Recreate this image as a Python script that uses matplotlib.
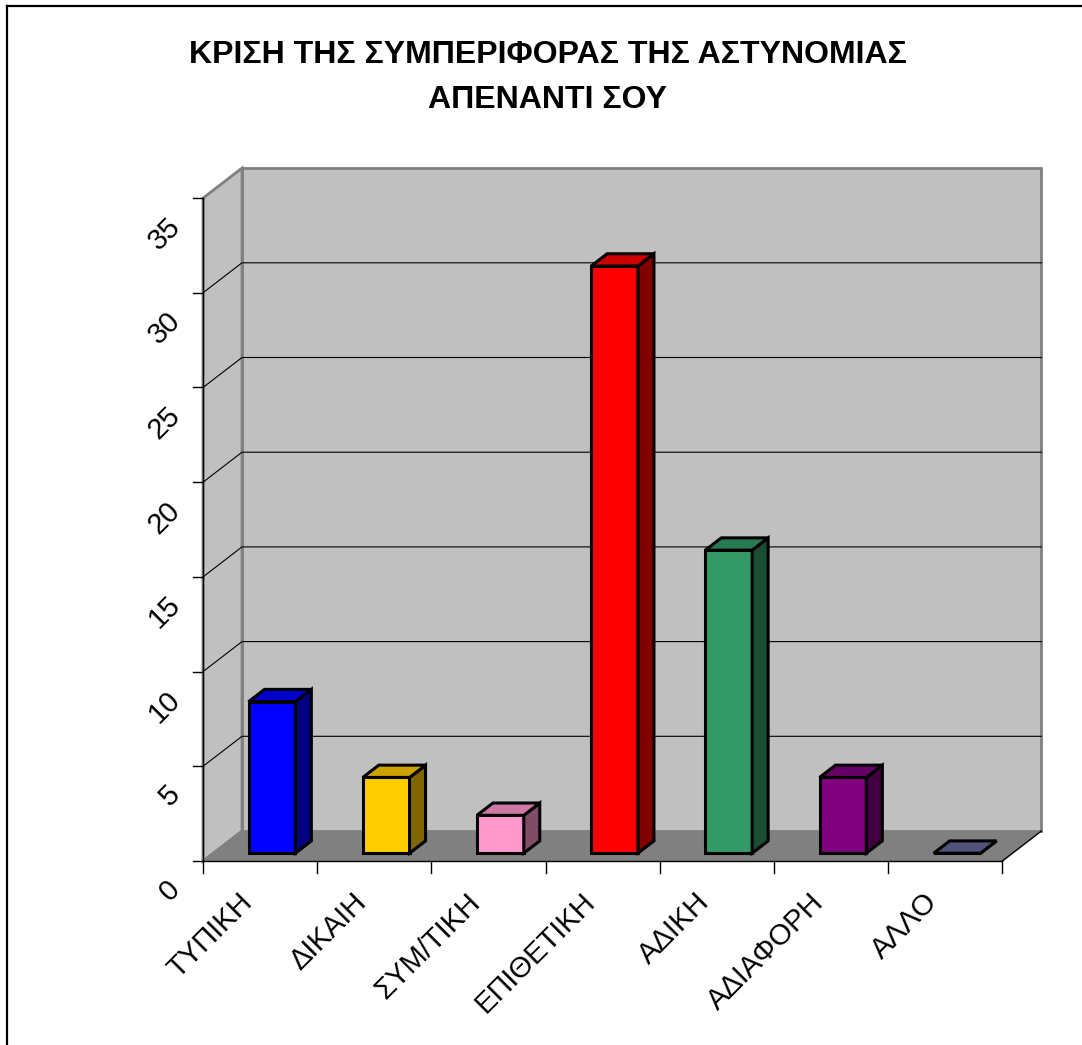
import matplotlib
matplotlib.use("Agg")
import matplotlib.pyplot as plt
from matplotlib.patches import Polygon
from matplotlib.colors import to_rgb

# data
categories = ["ΤΥΠΙΚΗ", "ΔΙΚΑΙΗ", "ΣΥΜ/ΤΙΚΗ", "ΕΠΙΘΕΤΙΚΗ", "ΑΔΙΚΗ", "ΑΔΙΑΦΟΡΗ", "ΑΛΛΟ"]
values = [8, 4, 2, 31, 16, 4, 0]
bar_colors = ["#0000FF", "#FFCC00", "#FF99CC", "#FF0000", "#339966", "#800080", "#666699"]
yticks = [0, 5, 10, 15, 20, 25, 30, 35]
title_lines = ["ΚΡΙΣΗ ΤΗΣ ΣΥΜΠΕΡΙΦΟΡΑΣ ΤΗΣ ΑΣΤΥΝΟΜΙΑΣ", "ΑΠΕΝΑΝΤΙ ΣΟΥ"]

plt.rcParams['font.family'] = ['Liberation Sans', 'DejaVu Sans']

W, H = 1082, 1045
fig = plt.figure(figsize=(W / 100, H / 100), dpi=100)
ax = fig.add_axes([0, 0, 1, 1])
ax.axis("off")

# pixel layout of the pseudo 3d box
X0, CW = 203, 114.2      # left edge of category 0, px per category
Y0, YU = 861, 18.94      # px of value 0, px per unit
ax.set_xlim(-X0 / CW, (W - X0) / CW)
ax.set_ylim((Y0 - H) / YU, Y0 / YU)

n = len(categories)
ymax = yticks[-1]
ddx = 39 / CW   # depth offset in data units
ddy = 30 / YU


def shade(c, f):
    r, g, b = to_rgb(c)
    return (r * f, g * f, b * f)


# walls and floor
ax.add_patch(Polygon([(ddx, ddy), (n + ddx, ddy), (n + ddx, ymax + ddy), (ddx, ymax + ddy)],
                     closed=True, fc="#C0C0C0", ec="#808080", lw=2, zorder=1))
ax.add_patch(Polygon([(0, 0), (ddx, ddy), (ddx, ymax + ddy), (0, ymax)],
                     closed=True, fc="#C0C0C0", ec="#808080", lw=2, zorder=1))
ax.add_patch(Polygon([(0, 0), (n, 0), (n + ddx, ddy), (ddx, ddy)],
                     closed=True, fc="#808080", ec="none", zorder=2))
ax.plot([n, n + ddx], [0, ddy], color="black", lw=1, zorder=3)

# gridlines
for v in yticks[1:-1]:
    ax.plot([0, ddx, n + ddx], [v, v + ddy, v + ddy], color="black", lw=0.8, zorder=2)

# axis lines and ticks
ax.plot([0, 0], [0, ymax], color="black", lw=1, zorder=3)
ax.plot([0, n], [0, 0], color="black", lw=1, zorder=3)
for v in yticks:
    ax.plot([-10 / CW, 0], [v, v], color="black", lw=1, zorder=3)
    ax.text(-27 / CW, v - 24 / YU, str(v), rotation=45, rotation_mode="anchor",
            ha="right", va="center", fontsize=21)
for i in range(n + 1):
    ax.plot([i, i], [0, -12 / YU], color="black", lw=1, zorder=3)

# bars
f0, f1 = 0.26, 0.67
sx, sy = (f1 - f0) * ddx, (f1 - f0) * ddy
for i, (v, c) in enumerate(zip(values, bar_colors)):
    x0 = i + 0.31 + f0 * ddx
    x1 = x0 + 0.41
    yb = f0 * ddy
    yt = v + yb
    kw = dict(closed=True, ec="black", lw=2.2, joinstyle="miter", zorder=5)
    ax.add_patch(Polygon([(x0, yb), (x1, yb), (x1, yt), (x0, yt)], fc=c, **kw))
    ax.add_patch(Polygon([(x1, yb), (x1 + sx, yb + sy), (x1 + sx, yt + sy), (x1, yt)],
                         fc=shade(c, 0.5), **kw))
    ax.add_patch(Polygon([(x0, yt), (x1, yt), (x1 + sx, yt + sy), (x0 + sx, yt + sy)],
                         fc=shade(c, 0.8), **kw))

# category labels
for i, lab in enumerate(categories):
    ax.text(i + 0.5 - 22 / CW, -27 / YU, lab, rotation=45, rotation_mode="anchor",
            ha="right", va="top", fontsize=21)

fig.text(548 / W, 1 - 55 / H, title_lines[0], ha="center", va="center", fontsize=23,
         fontweight="bold")
fig.text(548 / W, 1 - 100 / H, title_lines[1], ha="center", va="center", fontsize=23,
         fontweight="bold")

# chart frame (only left and top edges visible)
fig.add_artist(plt.Line2D([7 / W, 7 / W], [0, 1 - 6 / H], color="black", lw=1.6))
fig.add_artist(plt.Line2D([7 / W, 1], [1 - 6 / H, 1 - 6 / H], color="black", lw=1.6))

fig.savefig("out.png", dpi=100, facecolor="white")
